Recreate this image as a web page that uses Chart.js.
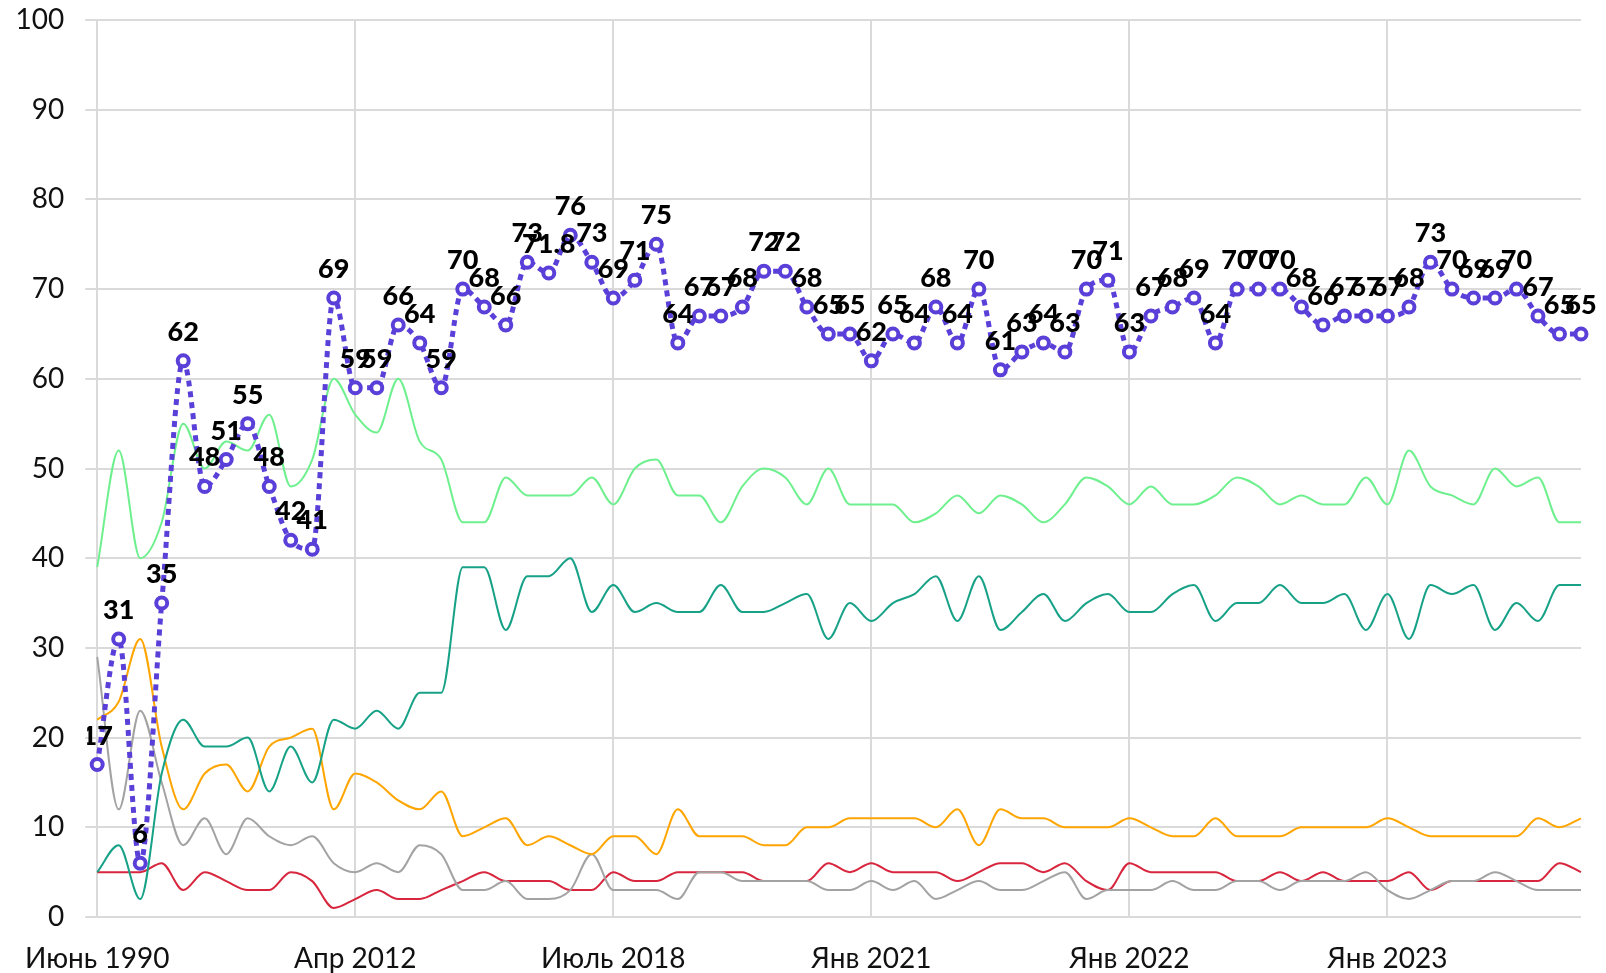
<!DOCTYPE html>
<html>
<head>
<meta charset="utf-8">
<script src="https://cdn.jsdelivr.net/npm/chart.js@4.4.1/dist/chart.umd.min.js"></script>
<style>
  body { margin: 0; background: #fff; }
  canvas { display: block; }
</style>
</head>
<body>
<canvas id="myChart" width="1606" height="973"></canvas>
<script>
// 70 survey points, only every 12th label is shown on the axis
const categories = [
  "Июнь 1990", "", "", "", "", "", "", "", "", "", "", "",
  "Апр 2012", "", "", "", "", "", "", "", "", "", "", "",
  "Июль 2018", "", "", "", "", "", "", "", "", "", "", "",
  "Янв 2021", "Фев 2021", "Мар 2021", "Апр 2021", "Май 2021", "Июнь 2021",
  "Июль 2021", "Авг 2021", "Сен 2021", "Окт 2021", "Ноя 2021", "Дек 2021",
  "Янв 2022", "Фев 2022", "Мар 2022", "Апр 2022", "Май 2022", "Июнь 2022",
  "Июль 2022", "Авг 2022", "Сен 2022", "Окт 2022", "Ноя 2022", "Дек 2022",
  "Янв 2023", "Фев 2023", "Мар 2023", "Апр 2023", "Май 2023", "Июнь 2023",
  "Июль 2023", "Авг 2023", "Сен 2023", "Окт 2023"
];

// main series (dotted, labelled)
const mainValues = [
  17, 31, 6, 35, 62, 48, 51, 55, 48, 42, 41, 69,
  59, 59, 66, 64, 59, 70, 68, 66, 73, 71.8, 76, 73,
  69, 71, 75, 64, 67, 67, 68, 72, 72, 68, 65, 65,
  62, 65, 64, 68, 64, 70, 61, 63, 64, 63, 70, 71,
  63, 67, 68, 69, 64, 70, 70, 70, 68, 66, 67, 67,
  67, 68, 73, 70, 69, 69, 70, 67, 65, 65
];

const greenValues = [
  39, 52, 40, 44, 55, 50, 53, 52, 56, 48, 51, 60,
  56, 54, 60, 53, 51, 44, 44, 49, 47, 47, 47, 49,
  46, 50, 51, 47, 47, 44, 48, 50, 49, 46, 50, 46,
  46, 46, 44, 45, 47, 45, 47, 46, 44, 46, 49, 48,
  46, 48, 46, 46, 47, 49, 48, 46, 47, 46, 46, 49,
  46, 52, 48, 47, 46, 50, 48, 49, 44, 44
];

const tealValues = [
  5, 8, 2, 16, 22, 19, 19, 20, 14, 19, 15, 22,
  21, 23, 21, 25, 25, 39, 39, 32, 38, 38, 40, 34,
  37, 34, 35, 34, 34, 37, 34, 34, 35, 36, 31, 35,
  33, 35, 36, 38, 33, 38, 32, 34, 36, 33, 35, 36,
  34, 34, 36, 37, 33, 35, 35, 37, 35, 35, 36, 32,
  36, 31, 37, 36, 37, 32, 35, 33, 37, 37
];

const orangeValues = [
  22, 24, 31, 19, 12, 16, 17, 14, 19, 20, 21, 12,
  16, 15, 13, 12, 14, 9, 10, 11, 8, 9, 8, 7,
  9, 9, 7, 12, 9, 9, 9, 8, 8, 10, 10, 11,
  11, 11, 11, 10, 12, 8, 12, 11, 11, 10, 10, 10,
  11, 10, 9, 9, 11, 9, 9, 9, 10, 10, 10, 10,
  11, 10, 9, 9, 9, 9, 9, 11, 10, 11
];

const grayValues = [
  29, 12, 23, 15, 8, 11, 7, 11, 9, 8, 9, 6,
  5, 6, 5, 8, 7, 3, 3, 4, 2, 2, 3, 7,
  3, 3, 3, 2, 5, 5, 4, 4, 4, 4, 3, 3,
  4, 3, 4, 2, 3, 4, 3, 3, 4, 5, 2, 3,
  3, 3, 4, 3, 3, 4, 4, 3, 4, 4, 4, 5,
  3, 2, 3, 4, 4, 5, 4, 3, 3, 3
];

const redValues = [
  5, 5, 5, 6, 3, 5, 4, 3, 3, 5, 4, 1,
  2, 3, 2, 2, 3, 4, 5, 4, 4, 4, 3, 3,
  5, 4, 4, 5, 5, 5, 5, 4, 4, 4, 6, 5,
  6, 5, 5, 5, 4, 5, 6, 6, 5, 6, 4, 3,
  6, 5, 5, 5, 5, 4, 4, 5, 4, 5, 4, 4,
  4, 5, 3, 4, 4, 4, 4, 4, 6, 5
];

const yTicks = [0, 10, 20, 30, 40, 50, 60, 70, 80, 90, 100];

const gridColor = "#dadada";

function thinLine(data, color) {
  return {
    data: data,
    borderColor: color,
    borderWidth: 2,
    pointRadius: 0,
    fill: false,
    cubicInterpolationMode: "monotone"
  };
}

// numbers above the dotted series
const pointLabels = {
  id: "pointLabels",
  afterDatasetsDraw(chart) {
    const ctx = chart.ctx;
    const area = chart.chartArea;
    const meta = chart.getDatasetMeta(0);
    ctx.save();
    ctx.beginPath();
    ctx.rect(area.left - 10, 0, chart.width, chart.height);
    ctx.clip();
    ctx.font = "900 27px Lato";
    ctx.fillStyle = "#000";
    ctx.textAlign = "center";
    ctx.textBaseline = "alphabetic";
    meta.data.forEach(function (pt, i) {
      ctx.fillText(String(mainValues[i]), pt.x, pt.y - 20);
    });
    ctx.restore();
  }
};

var ctx = document.getElementById("myChart").getContext("2d");

var chart = new Chart(ctx, {
  type: "line",
  data: {
    labels: categories,
    datasets: [
      {
        data: mainValues,
        borderColor: "#5a3fd8",
        borderWidth: 5,
        borderDash: [6, 5],
        cubicInterpolationMode: "monotone",
        pointRadius: 5.5,
        pointBorderWidth: 4,
        pointBorderColor: "#5a3fd8",
        pointBackgroundColor: "#fff",
        fill: false
      },
      thinLine(greenValues, "#6ff08f"),
      thinLine(tealValues, "#17a287"),
      thinLine(orangeValues, "#ffa500"),
      thinLine(grayValues, "#a3a3a3"),
      thinLine(redValues, "#d7263d")
    ]
  },
  plugins: [pointLabels],
  options: {
    responsive: false,
    animation: false,
    layout: { padding: { top: 20, right: 18, left: 0, bottom: 0 } },
    plugins: {
      legend: { display: false },
      tooltip: { enabled: false }
    },
    scales: {
      x: {
        offset: false,
        border: { display: false },
        grid: {
          drawTicks: false,
          lineWidth: 2,
          color: (c) => (c.index % 12 === 0 ? gridColor : "transparent")
        },
        ticks: {
          autoSkip: false,
          maxRotation: 0,
          padding: 25,
          color: "#111",
          font: { family: "Lato", size: 28 },
          callback: function (value, index) {
            return index % 12 === 0 ? categories[index] : "";
          }
        },
        afterFit(scale) { scale.height = 56; }
      },
      y: {
        min: 0,
        max: 100,
        border: { display: false },
        grid: { color: gridColor, lineWidth: 2, tickLength: 12 },
        afterBuildTicks(scale) {
          scale.ticks = yTicks.map((v) => ({ value: v }));
        },
        ticks: {
          padding: 21,
          color: "#111",
          font: { family: "Lato", size: 28 }
        },
        afterFit(scale) {
          scale.width = 95;
          scale.paddingTop = 0;
          scale.paddingBottom = 0;
        }
      }
    }
  }
});
</script>
</body>
</html>
